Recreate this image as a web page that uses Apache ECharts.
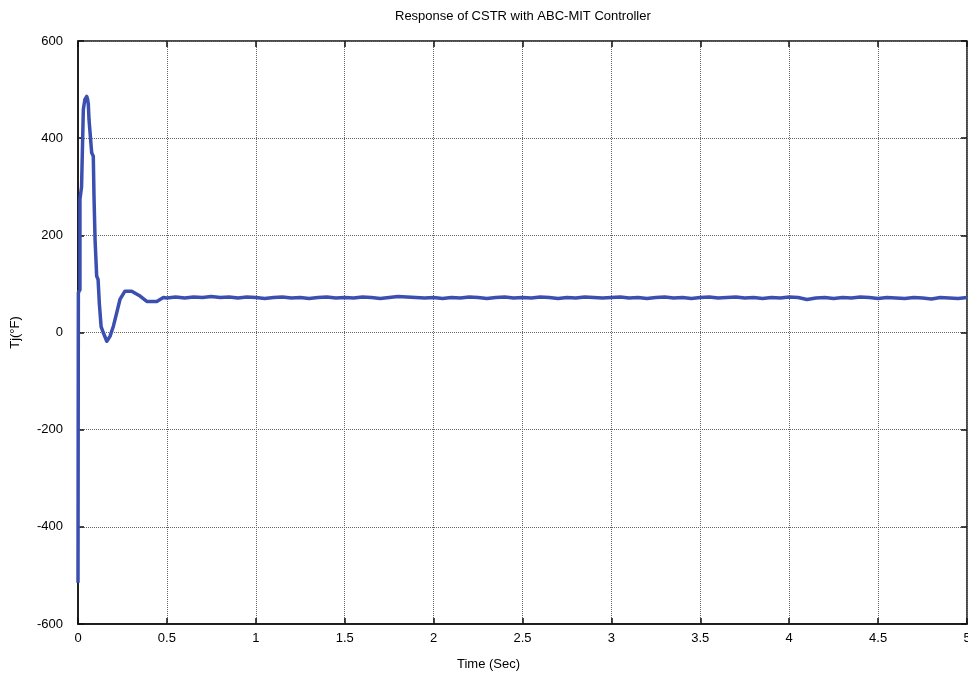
<!DOCTYPE html>
<html>
<head>
<meta charset="utf-8">
<script src="https://cdn.jsdelivr.net/npm/echarts@6/dist/echarts.min.js"></script>
<style>html,body{margin:0;padding:0;background:#fff;overflow:hidden}#chart{width:968px;height:680px}</style>
</head>
<body>
<div id="chart"></div>
<script>
var chartTitle = 'Response of CSTR with ABC-MIT Controller';
var xAxisName = 'Time (Sec)';
var yAxisName = 'Tj(\u00B0F)';
var xTicks = [0, 0.5, 1, 1.5, 2, 2.5, 3, 3.5, 4, 4.5, 5];
var yTicks = [-600, -400, -200, 0, 200, 400, 600];

var timeSec = [
  0, 0.002, 0.011, 0.011, 0.02, 0.03, 0.039, 0.049, 0.054, 0.058, 0.062, 0.072, 0.077, 0.086, 0.09, 0.096,
  0.105, 0.113, 0.12, 0.13, 0.142, 0.162, 0.18, 0.199, 0.218, 0.236, 0.264, 0.302, 0.349, 0.387, 0.443, 0.48, 0.5,
  0.55, 0.6, 0.65, 0.7, 0.75, 0.8, 0.85, 0.9, 0.95, 1.0,
  1.05, 1.1, 1.15, 1.2, 1.25, 1.3, 1.35, 1.4, 1.45, 1.5,
  1.55, 1.6, 1.65, 1.7, 1.75, 1.8, 1.85, 1.9, 1.95, 2.0,
  2.05, 2.1, 2.15, 2.2, 2.25, 2.3, 2.35, 2.4, 2.45, 2.5,
  2.55, 2.6, 2.65, 2.7, 2.75, 2.8, 2.85, 2.9, 2.95, 3.0,
  3.05, 3.1, 3.15, 3.2, 3.25, 3.3, 3.35, 3.4, 3.45, 3.5,
  3.55, 3.6, 3.65, 3.7, 3.75, 3.8, 3.85, 3.9, 3.95, 4.0,
  4.05, 4.1, 4.15, 4.2, 4.25, 4.3, 4.35, 4.4, 4.45, 4.5,
  4.55, 4.6, 4.65, 4.7, 4.75, 4.8, 4.85, 4.9, 4.95, 5.0
];
var tjValues = [
  -515, 82, 88, 274, 300, 459, 480, 486, 480, 470, 438, 435, 370, 363, 280, 191,
  116, 109, 60, 12, 0, -18, -8, 13, 41, 68, 85, 85, 75, 64, 64, 72, 71,
  73, 71, 73, 72, 74, 72, 73, 71, 73, 72,
  70, 72, 73, 71, 72, 70, 72, 73, 71, 72,
  71, 73, 72, 70, 72, 74, 73, 72, 71, 72,
  70, 72, 71, 73, 72, 70, 72, 73, 71, 72,
  71, 73, 72, 70, 72, 71, 73, 72, 71, 72,
  73, 71, 72, 70, 72, 73, 71, 72, 70, 72,
  73, 71, 72, 73, 71, 72, 70, 72, 71, 73,
  72, 68, 71, 72, 70, 72, 71, 73, 72, 70,
  72, 71, 70, 72, 71, 69, 72, 71, 70, 72
];

var seriesData = timeSec.map(function (t, i) { return [t, tjValues[i]]; });

var chart = echarts.init(document.getElementById('chart'));
var labelStyle = { color: '#000', fontFamily: 'Liberation Sans', fontSize: 13 };
var tickStyle = { show: true, inside: true, length: 6, lineStyle: { color: '#111', width: 1.5 } };
chart.setOption({
  animation: false,
  backgroundColor: '#fff',
  title: {
    text: chartTitle, left: 390, top: 5,
    textStyle: { fontFamily: 'Liberation Sans', fontSize: 13, fontWeight: 'normal', color: '#000' }
  },
  grid: { left: 78, right: 1, top: 41, bottom: 56, show: true, borderColor: '#111', borderWidth: 1.5,
          containLabel: false, outerBoundsMode: 'none' },
  xAxis: [{
    type: 'value', min: xTicks[0], max: xTicks[xTicks.length - 1], interval: 0.5,
    name: xAxisName, nameLocation: 'middle', nameGap: 34,
    nameTextStyle: { fontFamily: 'Liberation Sans', fontSize: 13, color: '#000', padding: [0, 68, 0, 0] },
    axisLine: { show: true, onZero: false, lineStyle: { color: '#111', width: 1.5 } },
    axisTick: tickStyle,
    axisLabel: Object.assign({ margin: 8 }, labelStyle),
    splitLine: { show: true, lineStyle: { color: '#666', type: 'dotted', width: 1 } }
  }, {
    type: 'value', position: 'top', min: xTicks[0], max: xTicks[xTicks.length - 1], interval: 0.5,
    axisLine: { show: false, onZero: false }, axisLabel: { show: false }, splitLine: { show: false },
    axisTick: tickStyle
  }],
  yAxis: [{
    type: 'value', min: yTicks[0], max: yTicks[yTicks.length - 1], interval: 200,
    name: yAxisName, nameLocation: 'middle', nameGap: 56, nameRotate: 90,
    nameTextStyle: { fontFamily: 'Liberation Sans', fontSize: 13, color: '#000' },
    axisLine: { show: true, onZero: false, lineStyle: { color: '#111', width: 1.5 } },
    axisTick: tickStyle,
    axisLabel: Object.assign({ margin: 15 }, labelStyle),
    splitLine: { show: true, lineStyle: { color: '#666', type: 'dotted', width: 1 } }
  }, {
    type: 'value', position: 'right', min: yTicks[0], max: yTicks[yTicks.length - 1], interval: 200,
    axisLine: { show: false, onZero: false }, axisLabel: { show: false }, splitLine: { show: false },
    axisTick: tickStyle
  }],
  series: [{
    type: 'line', data: seriesData, showSymbol: false, symbol: 'none',
    lineStyle: { color: '#3b4fb0', width: 3.5, join: 'round' },
    clip: true
  }]
});
</script>
</body>
</html>
